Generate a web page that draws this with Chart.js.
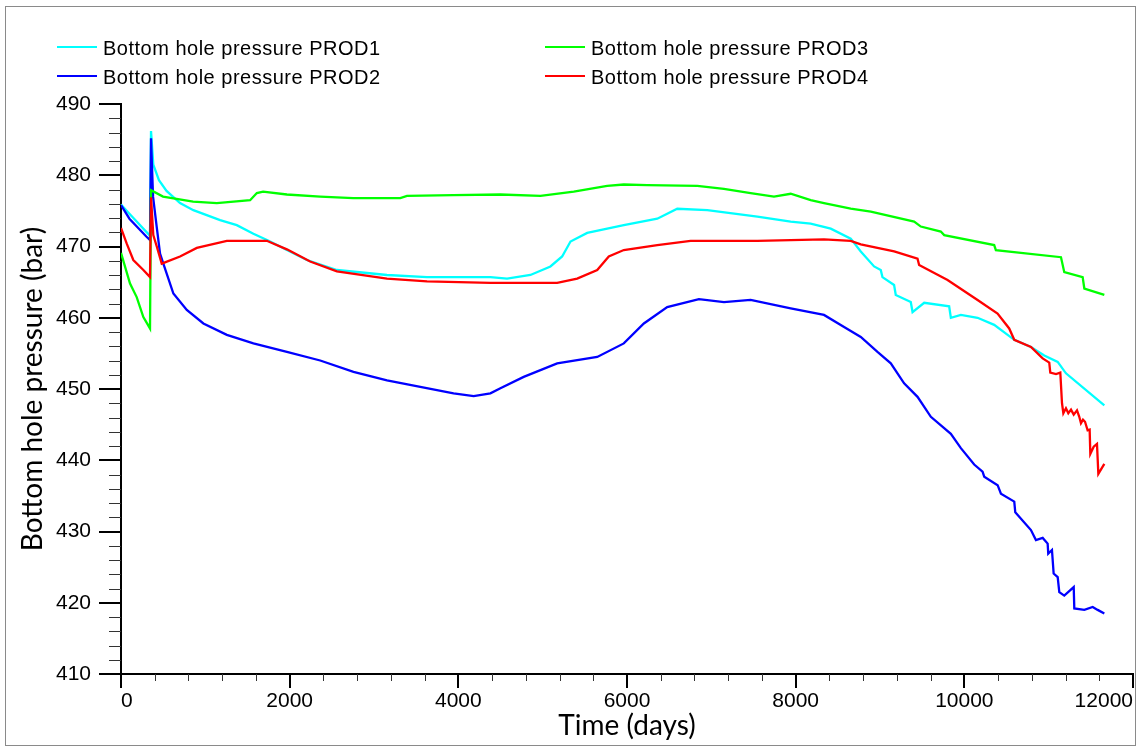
<!DOCTYPE html>
<html>
<head>
<meta charset="utf-8">
<script src="https://cdn.jsdelivr.net/npm/chart.js@4.4.0/dist/chart.umd.min.js"></script>
<style>
  html, body { margin: 0; padding: 0; background: #fff; }
  canvas { display: block; }
</style>
</head>
<body>
<canvas id="myChart" width="1137" height="747"></canvas>
<script>
// series names and colours
var seriesNames = [
  "Bottom hole pressure PROD1",
  "Bottom hole pressure PROD2",
  "Bottom hole pressure PROD3",
  "Bottom hole pressure PROD4"
];
var seriesColors = ["#00ffff", "#0000ff", "#00ff00", "#ff0000"];

// PROD1 (cyan)
var prod1Days = [0, 100, 344, 356, 383, 450, 540, 700, 858, 1175, 1373, 1570, 1769, 1967, 2204, 2560, 3154, 3629, 4380, 4578, 4855, 5092, 5231, 5330, 5528, 5962, 6359, 6596, 6952, 7546, 7941, 8178, 8416, 8653, 8772, 8930, 9009, 9029, 9167, 9187, 9365, 9386, 9524, 9820, 9840, 9959, 10157, 10354, 10592, 10790, 10948, 11107, 11205, 11660];
var prod1Bhp = [475.9, 474.6, 471.5, 486.2, 481.5, 479.3, 477.8, 476.1, 475.1, 473.7, 473.0, 471.8, 470.7, 469.5, 468.1, 466.7, 466.0, 465.7, 465.7, 465.5, 466.0, 467.2, 468.6, 470.7, 471.9, 473.0, 473.9, 475.3, 475.1, 474.2, 473.5, 473.2, 472.5, 471.1, 469.3, 467.2, 466.7, 465.7, 464.6, 463.2, 462.2, 460.8, 462.1, 461.6, 460.0, 460.4, 460.0, 459.0, 456.9, 455.9, 454.7, 453.8, 452.2, 447.7];

// PROD2 (blue)
var prod2Days = [0, 100, 300, 344, 356, 380, 423, 463, 502, 621, 780, 977, 1255, 1570, 1967, 2362, 2757, 3154, 3549, 3944, 4182, 4380, 4499, 4775, 5172, 5647, 5962, 6200, 6477, 6853, 7150, 7466, 7941, 8336, 8574, 8772, 8970, 9128, 9286, 9445, 9603, 9840, 9959, 10117, 10216, 10236, 10395, 10434, 10592, 10604, 10790, 10849, 10929, 10988, 10995, 11039, 11059, 11107, 11126, 11185, 11297, 11304, 11423, 11522, 11581, 11660];
var prod2Bhp = [475.8, 473.9, 471.4, 470.9, 485.2, 477.0, 472.8, 469.0, 467.6, 463.4, 461.1, 459.2, 457.6, 456.4, 455.2, 454.0, 452.4, 451.2, 450.3, 449.4, 449.0, 449.4, 450.1, 451.7, 453.6, 454.5, 456.4, 459.2, 461.5, 462.6, 462.2, 462.5, 461.3, 460.4, 458.7, 457.3, 455.2, 453.6, 450.8, 448.9, 446.1, 443.7, 441.7, 439.4, 438.4, 437.7, 436.5, 435.3, 434.2, 432.7, 430.2, 428.8, 429.1, 428.3, 426.9, 427.4, 424.1, 423.6, 421.5, 421.0, 422.2, 419.2, 419.0, 419.4, 419.0, 418.5];

// PROD3 (green)
var prod3Days = [0, 107, 186, 265, 344, 356, 498, 855, 1136, 1531, 1611, 1685, 1967, 2362, 2754, 3312, 3391, 3941, 4499, 4974, 5369, 5765, 5962, 6240, 6834, 7149, 7466, 7743, 7941, 8178, 8336, 8653, 8891, 9405, 9484, 9721, 9761, 10354, 10374, 11146, 11185, 11403, 11423, 11660];
var prod3Bhp = [469.1, 464.8, 462.9, 460.1, 458.5, 477.9, 477.0, 476.3, 476.1, 476.5, 477.5, 477.7, 477.3, 477.0, 476.8, 476.8, 477.1, 477.2, 477.3, 477.1, 477.7, 478.5, 478.7, 478.6, 478.5, 478.1, 477.5, 477.0, 477.4, 476.5, 476.1, 475.3, 474.9, 473.5, 472.8, 472.1, 471.6, 470.2, 469.5, 468.5, 466.4, 465.7, 464.1, 463.2];

// PROD4 (red)
var prod4Days = [0, 68, 146, 265, 344, 356, 383, 424, 483, 700, 899, 1255, 1729, 1967, 2243, 2560, 3154, 3629, 4380, 5172, 5409, 5647, 5784, 5962, 6359, 6754, 7546, 8336, 8653, 8772, 9168, 9445, 9464, 9801, 10157, 10394, 10532, 10592, 10790, 10929, 11007, 11019, 11087, 11138, 11158, 11174, 11205, 11233, 11265, 11297, 11336, 11363, 11383, 11407, 11431, 11462, 11486, 11494, 11534, 11573, 11589, 11660];
var prod4Bhp = [472.6, 470.4, 468.1, 466.7, 465.7, 476.9, 471.6, 470.0, 467.6, 468.6, 469.8, 470.8, 470.8, 469.6, 467.9, 466.5, 465.5, 465.1, 464.9, 464.9, 465.5, 466.7, 468.6, 469.5, 470.2, 470.8, 470.8, 471.0, 470.8, 470.3, 469.3, 468.3, 467.4, 465.3, 462.5, 460.6, 458.5, 456.9, 455.9, 454.3, 453.7, 452.3, 452.1, 452.3, 448.0, 446.6, 447.3, 446.6, 447.1, 446.4, 447.0, 446.1, 445.2, 445.7, 445.4, 444.2, 444.3, 440.9, 441.9, 442.3, 438.1, 439.5];

// axes
var xMin = 0, xMax = 12000, xMinorStep = 400, xMajorStep = 2000;
var yMin = 410, yMax = 490, yMinorStep = 2, yMajorStep = 10;

function toPoints(days, vals) {
  var pts = [];
  for (var i = 0; i < days.length; i++) {
    pts.push({ x: days[i], y: vals[i] });
  }
  return pts;
}

var allDays = [prod1Days, prod2Days, prod3Days, prod4Days];
var allBhp = [prod1Bhp, prod2Bhp, prod3Bhp, prod4Bhp];
var drawOrder = [4, 3, 2, 1]; // red on top, cyan at the back

var datasets = [];
for (var i = 0; i < 4; i++) {
  datasets.push({
    label: seriesNames[i],
    data: toPoints(allDays[i], allBhp[i]),
    borderColor: seriesColors[i],
    backgroundColor: seriesColors[i],
    borderWidth: 2.3,
    pointRadius: 0,
    tension: 0,
    fill: false,
    order: drawOrder[i]
  });
}

// white page + thin frame
var framePlugin = {
  id: "frame",
  beforeDraw: function(chart) {
    var ctx = chart.ctx;
    ctx.save();
    ctx.fillStyle = "#fff";
    ctx.fillRect(0, 0, chart.width, chart.height);
    ctx.restore();
  },
  afterDraw: function(chart) {
    var ctx = chart.ctx;
    ctx.save();
    ctx.strokeStyle = "#8a8a8a";
    ctx.lineWidth = 1;
    ctx.strokeRect(5.5, 6.5, 1130, 739);
    ctx.restore();
  }
};

// major / minor tick marks, from the scales' own ticks
var tickPlugin = {
  id: "tickMarks",
  afterDraw: function(chart) {
    var ctx = chart.ctx;
    var xs = chart.scales.x, ys = chart.scales.y;
    ctx.save();
    xs.ticks.forEach(function(t) {
      var major = t.value % xMajorStep === 0;
      var px = Math.round(xs.getPixelForValue(t.value));
      ctx.strokeStyle = major ? "#000" : "#333";
      ctx.lineWidth = major ? 2 : 1;
      ctx.beginPath();
      ctx.moveTo(major ? px : px + 0.5, xs.top);
      ctx.lineTo(major ? px : px + 0.5, xs.top + (major ? 14 : 7));
      ctx.stroke();
    });
    ys.ticks.forEach(function(t) {
      var major = t.value % yMajorStep === 0;
      var py = Math.round(ys.getPixelForValue(t.value));
      ctx.strokeStyle = major ? "#000" : "#333";
      ctx.lineWidth = major ? 2 : 1;
      ctx.beginPath();
      ctx.moveTo(ys.right, major ? py : py + 0.5);
      ctx.lineTo(ys.right - (major ? 22 : 12), major ? py : py + 0.5);
      ctx.stroke();
    });
    ctx.restore();
  }
};

// two-column legend above the plot
var legendPlugin = {
  id: "topLegend",
  afterDraw: function(chart) {
    var ctx = chart.ctx;
    var cols = [57, 545];
    var rows = [47, 76];
    var where = [[0, 0], [0, 1], [1, 0], [1, 1]];
    ctx.save();
    ctx.font = "20px 'Liberation Sans', Arial, sans-serif";
    if ("letterSpacing" in ctx) ctx.letterSpacing = "0.5px";
    ctx.textBaseline = "alphabetic";
    ctx.textAlign = "left";
    for (var i = 0; i < 4; i++) {
      var x = cols[where[i][0]], y = rows[where[i][1]];
      ctx.strokeStyle = seriesColors[i];
      ctx.lineWidth = 2;
      ctx.beginPath();
      ctx.moveTo(x, y);
      ctx.lineTo(x + 40, y);
      ctx.stroke();
      ctx.fillStyle = "#000";
      ctx.fillText(seriesNames[i], x + 46, y + 8);
    }
    ctx.restore();
  }
};

var tickFont = { family: "'Liberation Sans', Arial, sans-serif", size: 21 };
var titleFont = { family: "Lato, 'Liberation Sans', sans-serif", size: 28 };

var ctx = document.getElementById("myChart").getContext("2d");
var chart = new Chart(ctx, {
  type: "line",
  data: { datasets: datasets },
  options: {
    responsive: false,
    animation: false,
    layout: { padding: { top: 104, right: 4, left: 0, bottom: 0 } },
    plugins: {
      legend: { display: false },
      tooltip: { enabled: false }
    },
    scales: {
      x: {
        type: "linear",
        min: xMin,
        max: xMax,
        ticks: {
          stepSize: xMinorStep,
          autoSkip: false,
          maxRotation: 0,
          align: "inner",
          padding: 15,
          color: "#000",
          font: tickFont,
          callback: function(v) { return v % xMajorStep === 0 ? String(v) : ""; }
        },
        grid: { display: true, drawOnChartArea: false, drawTicks: false },
        border: { display: true, color: "#000", width: 2 },
        title: { display: true, text: "Time (days)", color: "#000", font: titleFont, padding: { top: 0, bottom: 4 } },
        afterFit: function(s) { s.height = 73; s.paddingLeft = 0; s.paddingRight = 0; }
      },
      y: {
        type: "linear",
        min: yMin,
        max: yMax,
        ticks: {
          stepSize: yMinorStep,
          autoSkip: false,
          padding: 30,
          color: "#000",
          font: tickFont,
          callback: function(v) { return v % yMajorStep === 0 ? String(v) : ""; }
        },
        grid: { display: true, drawOnChartArea: false, drawTicks: false },
        border: { display: true, color: "#000", width: 2 },
        title: { display: true, text: "Bottom hole pressure (bar)", color: "#000", font: titleFont, padding: { top: 16, bottom: 0 } },
        afterFit: function(s) { s.width = 121; s.paddingTop = 0; s.paddingBottom = 0; }
      }
    }
  },
  plugins: [framePlugin, tickPlugin, legendPlugin]
});
</script>
</body>
</html>
